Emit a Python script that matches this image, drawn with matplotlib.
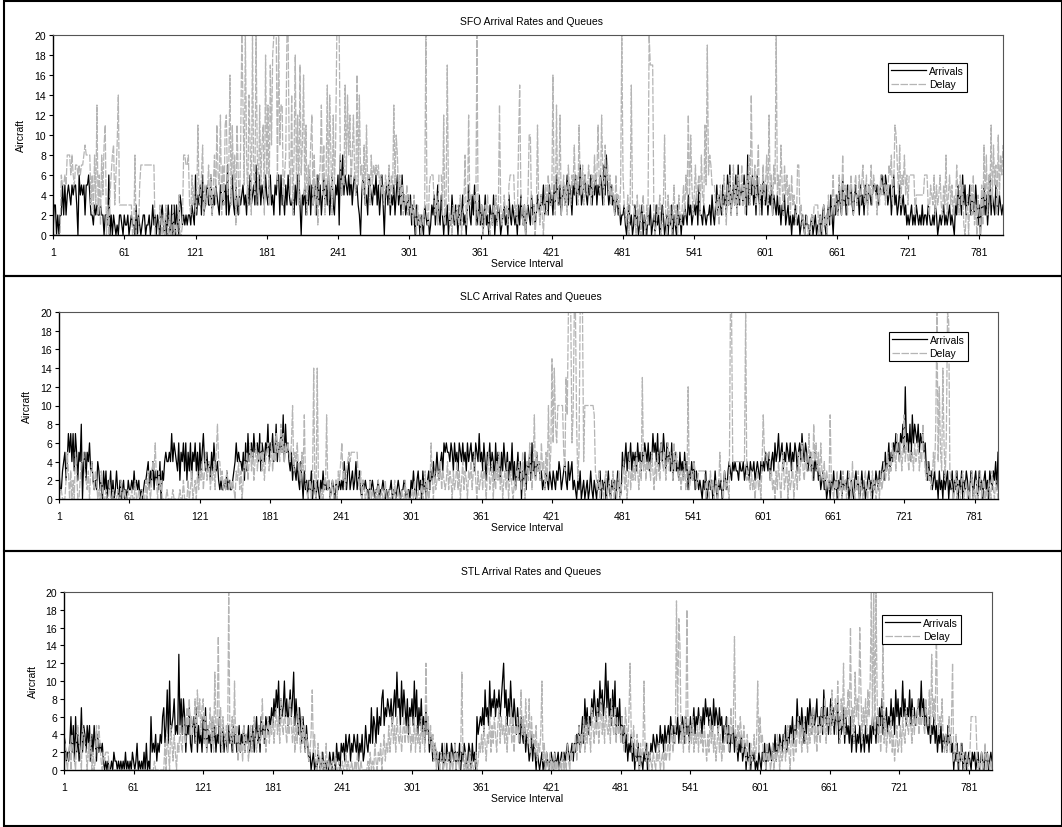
import matplotlib
matplotlib.use("Agg")
import matplotlib.pyplot as plt
from matplotlib.patches import Rectangle

plt.rcParams['font.family'] = ['Liberation Sans', 'DejaVu Sans']

# one character per service interval, base 36 (a=10 ... k=20)
sfo_arrivals_txt = (
    "0330202252" "5245435455" "3064545255" "6422132322" "3220221602" "0210102210"
    "2112012110" "3021012201" "1201312021" "0231020310" "3030310431" "2121221321"
    "6243526234" "5336243543" "2543452723" "4632532434" "5342536345" "3734635436"
    "4356342546" "6263425364" "3342536630" "4352436253" "4526352463" "5362463254"
    "6184846546" "4635645320" "4653426543" "5463524630" "4536243524" "6352634234"
    "2413203120" "2103212013" "2413521420" "2130214213" "2031241203" "5214253124"
    "1302412032" "1402132012" "3120421321" "2031421302" "3214231243" "2435234253"
    "4253643524" "5346354254" "6354734564" "3546354635" "4653748534" "5342342312"
    "2310231201" "3120123021" "0213012031" "2013201202" "1302103120" "2132142312"
    "3241522132" "1223142135" "2432534263" "7245362734" "5364283546" "3526435264"
    "3524352432" "4231324123" "1202132120" "1210211012" "0120112023" "1023142032"
    "4253263425" "3453245342" "5342543543" "4554534565" "4653452463" "4235234231"
    "2123121321" "2131221321" "1213201212" "3121231210" "3253426352" "4352432531"
    "304252413624325324323"
)
sfo_delay_txt = (
    "0000000655" "6588868657" "7676778988" "8836283d26" "1849b03046" "89369e3333"
    "3333333008" "0005777777" "7777770000" "3102031020" "0301004001" "8877832635"
    "23b4369253" "47362583b6" "5c273bc46g" "3b581b629k" "d5k83e92k6" "4k83d59b2i"
    "6d3h9ikkk5" "k9dd368kk7" "4e28i5c3h6" "9g4b2759c3" "826157d492" "6f3e82c59k"
    "kk7465f6e8" "c58c64g5e6" "7493b56385" "7676756453" "6547364d5a" "8463524352"
    "4231420312" "0213k21566" "632416662c" "13h4120321" "3214023812" "c344441k21"
    "2301324102" "132412d312" "4231566662" "319f421302" "4aa21302b3" "1420352643"
    "3g42d35c24" "6352743659" "463b547365" "475364856b" "54c6395746" "354263425k"
    "6321403f33" "2041302410" "31khhh2013" "24013a2041" "3025130421" "35264c3a52"
    "473562843b" "5j68755532" "4153264153" "6247352643" "73526483e5" "4736925473"
    "583c46275k" "4639527463" "5263421772" "3120120102" "1333302103" "1204213624"
    "3264283542" "5364256346" "3574362547" "3654253645" "635476835b" "a749365846"
    "3666662444" "4444666325" "4362534632" "5382463524" "3742635102" "4035261304"
    "2051938264b39572a4869"
)
slc_arrivals_txt = (
    "3113452475" "7473752548" "0452546342" "1214312031" "3021302013" "1020120102"
    "1121312120" "1012234132" "4132314032" "4544547465" "4362546362" "5362546352"
    "6357435342" "5364342121" "1213121123" "4645443526" "3745647556" "4736546584"
    "6574584657" "5948564352" "4324214203" "1202130210" "2102131211" "2012102112"
    "1214213412" "3124123102" "1211021210" "1120112101" "0112011012" "1011210110"
    "2131023120" "3120231324" "2353245365" "6554653645" "3654645364" "5645365474"
    "5364254635" "4263542536" "4352436241" "3524032514" "3526342534" "2312132132"
    "1321324312" "3421423412" "1021301201" "2013102102" "1302120131" "0212013201"
    "5346354635" "4536453546" "5463547564" "7356475364" "5362453425" "3425341324"
    "2413212102" "1301212013" "1021201321" "3432434332" "4334234324" "3342343243"
    "4354352453" "6457456354" "6546354653" "5647546534" "5342534231" "2312012021"
    "3120213021" "2130121023" "1201312012" "3120213213" "2342534635" "4657564768"
    "5c67584968" "7685767563" "2423123120" "3120312302" "1302130213" "0213201320"
    "231031202312032132415"
)
slc_delay_txt = (
    "0110002530" "3020530024" "4532130342" "1320103100" "1002001000" "1002001001"
    "0010020010" "0100203102" "4362031200" "0010000100" "0001002000" "2013012031"
    "3241352341" "3241584423" "1213212121" "0324130243" "5246352463" "5463524563"
    "4635475648" "574656546a" "3546342539" "2101202e10" "e210102191" "2012012032"
    "4623134545" "5555521302" "1010020100" "1020010020" "0100102001" "0010020100"
    "0102001002" "0130201620" "3123241321" "2413203124" "1302413203" "2413520312"
    "3142035124" "0314251302" "3140231021" "3243152034" "2631492534" "2634152a35"
    "f6e86aaaaa" "53d9kkk69k" "k825kkk4aa" "aaaaaa9321" "3021023012" "0130201301"
    "2413025132" "4253142d35" "2434253142" "5326435246" "3542635423" "132412c123"
    "2431233333" "3021031201" "2015210312" "10kk444444" "44444k2321" "3120231204"
    "9554552312" "0314203512" "4031240231" "5246325347" "3528463526" "3241321921"
    "0213012031" "2013204102" "1302102310" "2103120120" "3124235243" "6453754635"
    "9465364536" "4563548532" "42312538k4" "c53e627kj3" "2101302102" "3012010230"
    "102013012010210310210"
)
stl_arrivals_txt = (
    "4312136251" "6241372542" "5351425314" "2323101010" "0102110101" "0102010102"
    "1013010102" "0301062324" "1324367359" "3a4568454d" "5848625473" "2563725342"
    "6372534263" "5243623524" "3253425342" "3524352435" "2435246352" "6453654657"
    "58697a5867" "a6857968b5" "8647536425" "3120120102" "1012010102" "1021031203"
    "2314234132" "4324132412" "5324373653" "7465895768" "7685796b78" "5a69758476"
    "85a6947584" "6374524312" "3120213021" "3120321302" "1302132013" "2031206456"
    "5749675a68" "79687968ac" "79586a7586" "4753643524" "3124132021" "0120102101"
    "2102112012" "1212321231" "3243524638" "5746586975" "86a7968c7a" "68596a4758"
    "4635241324" "1302130210" "2130213243" "2432534253" "4536453546" "3546536453"
    "6457465756" "4758675764" "8576475635" "4635243524" "3132412302" "1302120102"
    "1021302132" "1324132432" "4352435463" "5485647536" "4758647568" "4657496574"
    "6857465836" "4573645362" "4352435234" "2534253645" "3647584657" "4658574968"
    "576a685769" "586756786a" "6857546354" "6352435243" "4253423021" "3021301201"
    "210212012012102120121"
)
stl_delay_txt = (
    "2310230421" "0453205432" "0314020152" "5310212220" "0000000000" "0000000000"
    "0000000000" "0000000010" "0000000304" "2053142032" "5326437584" "6458396847"
    "8362547362" "b45f372643" "52k4362a35" "1423152431" "3524632453" "4835246354"
    "6357463854" "7536485362" "5374263524" "3124924103" "1020103010" "0100200100"
    "1002010010" "0102001000" "0010201031" "0213024132" "5246352643" "5246354362"
    "4362534263" "52c4635241" "3021021031" "0210201302" "102b102010" "2010020132"
    "4253143625" "3642573645" "3625473625" "4635946385" "3826342513" "24a1302102"
    "0102010010" "2010310213" "2413524362" "5364275364" "7358463754" "6385473645"
    "36427536c4" "2531420312" "a213021021" "0213012031" "24135243j6" "he35263i42"
    "5362435263" "4253142635" "2413524132" "53624735f4" "2536425314" "20312413a2"
    "6341203120" "1302142031" "2413520431" "5246352463" "4253647352" "6437548365"
    "7495684a63" "85c47695g4" "73b685g937" "58496ak5k4" "k83625f362" "4536241352"
    "3526437546" "5374658465" "75486594d6" "85g7465832" "423625c124" "1203120120"
    "126666620102013021010"
)

def decode(s):
    return [int(c, 36) for c in s]

panels = [
    ("SFO Arrival Rates and Queues", sfo_arrivals_txt, sfo_delay_txt),
    ("SLC Arrival Rates and Queues", slc_arrivals_txt, slc_delay_txt),
    ("STL Arrival Rates and Queues", stl_arrivals_txt, stl_delay_txt),
]

x_ticks = list(range(1, 801, 60))

W, H = 1062, 828
fig = plt.figure(figsize=(W / 100, H / 100), dpi=100)

# pixel layout: (frame top, frame bottom, axes left, axes right, axes top, axes bottom,
#                ylabel x, legend x, legend y)
layout = [
    (2, 277, 53, 1003, 36, 236, 21, 888, 64),
    (277, 552, 59, 998, 313, 500, 27, 889, 333),
    (552, 827, 64, 992, 593, 771, 33, 882, 616),
]

fs = 7.5
for (title, a_txt, d_txt), lay in zip(panels, layout):
    ftop, fbot, al, ar, at, ab, ylx, lgx, lgy = lay
    fig.add_artist(Rectangle((4 / W, 1 - fbot / H), (W - 4) / W, (fbot - ftop) / H,
                             transform=fig.transFigure, fill=False,
                             edgecolor='black', linewidth=1.5))
    ax = fig.add_axes([al / W, 1 - ab / H, (ar - al) / W, (ab - at) / H])
    arrivals = decode(a_txt)
    delay = decode(d_txt)
    x = list(range(1, len(arrivals) + 1))
    ax.plot(x, arrivals, color='black', linewidth=0.9, label='Arrivals')
    ax.plot(x, delay, color='#b5b5b5', linewidth=0.9, linestyle=(0, (6, 1.2)), label='Delay')
    ax.set_xlim(1, 801)
    ax.set_ylim(0, 20)
    ax.set_yticks(range(0, 21, 2))
    ax.set_xticks(x_ticks)
    ax.tick_params(axis='both', labelsize=fs, length=3, width=0.8, direction='out')
    ax.tick_params(axis='x', pad=6)
    ax.tick_params(axis='y', pad=2)
    for s in ['top', 'right']:
        ax.spines[s].set_color('#555555')
        ax.spines[s].set_linewidth(0.8)
    for s in ['left', 'bottom']:
        ax.spines[s].set_color('black')
        ax.spines[s].set_linewidth(1.0)
    fig.text(531 / W, 1 - (ftop + 20) / H, title, ha='center', va='center', fontsize=fs)
    fig.text(527 / W, 1 - (ab + 28) / H, 'Service Interval', ha='center', va='center', fontsize=fs)
    fig.text(ylx / W, 1 - (at + ab) / 2 / H, 'Aircraft', rotation=90,
             ha='center', va='center', fontsize=fs)
    leg = ax.legend(loc='upper left', bbox_to_anchor=(lgx / W, 1 - lgy / H),
                    bbox_transform=fig.transFigure, fontsize=fs, frameon=True,
                    fancybox=False, edgecolor='black', framealpha=1,
                    handlelength=3.3, handletextpad=0.3, borderpad=0.3,
                    labelspacing=0.3, borderaxespad=0)
    leg.get_frame().set_linewidth(0.8)

fig.savefig('out.png', dpi=100)
